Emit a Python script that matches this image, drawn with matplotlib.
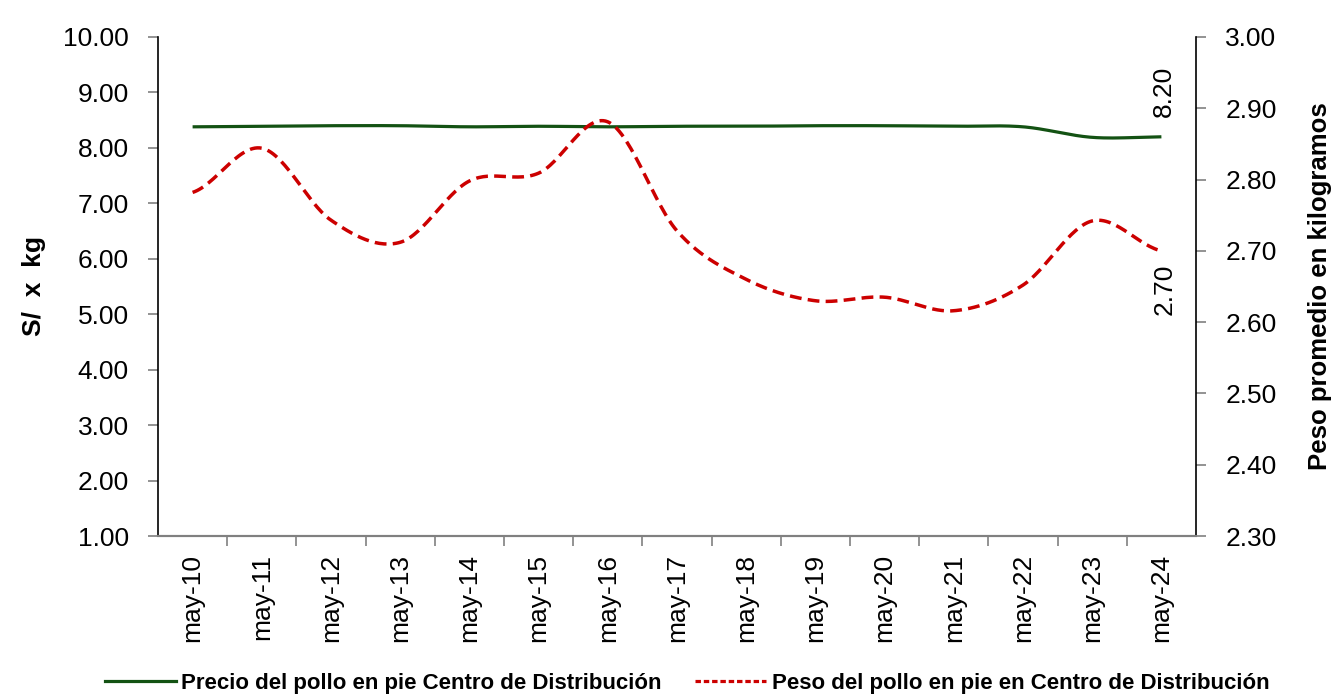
import numpy as np
import matplotlib
matplotlib.use("Agg")
import matplotlib.pyplot as plt
from matplotlib.lines import Line2D

plt.rcParams['font.family'] = ['Liberation Sans', 'DejaVu Sans']

meses = ['may-10', 'may-11', 'may-12', 'may-13', 'may-14', 'may-15', 'may-16',
         'may-17', 'may-18', 'may-19', 'may-20', 'may-21', 'may-22', 'may-23', 'may-24']
precio = [8.38, 8.39, 8.40, 8.40, 8.38, 8.39, 8.38, 8.39, 8.39, 8.40, 8.40, 8.39, 8.38, 8.19, 8.20]
peso = [2.782, 2.844, 2.743, 2.712, 2.798, 2.809, 2.881, 2.728, 2.660, 2.630, 2.635, 2.616, 2.652, 2.742, 2.700]

verde = '#135213'
rojo = '#cc0000'


def suavizar(y, n=30):
    # catmull-rom, como la linea suavizada de Excel
    y = np.asarray(y, float)
    p = np.concatenate([[y[0]], y, [y[-1]]])
    xs, ys = [], []
    for i in range(len(y) - 1):
        p0, p1, p2, p3 = p[i], p[i + 1], p[i + 2], p[i + 3]
        t = np.linspace(0, 1, n, endpoint=False)
        c1 = p1 + (p2 - p0) / 6
        c2 = p2 - (p3 - p1) / 6
        b = (1 - t)**3 * p1 + 3 * (1 - t)**2 * t * c1 + 3 * (1 - t) * t**2 * c2 + t**3 * p2
        xs.append(i + t)
        ys.append(b)
    xs.append([len(y) - 1])
    ys.append([y[-1]])
    return np.concatenate(xs), np.concatenate(ys)


fig = plt.figure(figsize=(13.37, 6.97), dpi=100)
ax = fig.add_axes([158 / 1337, 1 - 536 / 697, (1196 - 158) / 1337, (536 - 37) / 697])
ax2 = ax.twinx()

x = np.arange(len(meses))
sx, sy = suavizar(precio)
ax.plot(sx, sy, color=verde, lw=2.3, solid_capstyle='butt')
sx2, sy2 = suavizar(peso)
ax2.plot(sx2, sy2, color=rojo, lw=2.5, dashes=(3.4, 1.8))

ax.set_xlim(-0.5, len(meses) - 0.5)
ax.set_ylim(1, 10)
ax.set_yticks(np.arange(1, 10.01, 1))
ax.set_yticklabels(['%.2f' % v for v in np.arange(1, 10.01, 1)])
ax2.set_ylim(2.3, 3.0)
ax2.set_yticks(np.arange(2.3, 3.001, 0.1))
ax2.set_yticklabels(['%.2f' % v for v in np.arange(2.3, 3.001, 0.1)])

ax.set_xticks(x)
ax.set_xticklabels(meses, rotation=90)
ax.set_xticks(np.arange(0.5, len(meses) - 1, 1), minor=True)
ax.tick_params(axis='x', which='major', length=0, pad=13, labelsize=19)
ax.tick_params(axis='x', which='minor', length=7, width=1.2, color='#808080', direction='out')
ax.tick_params(axis='y', length=7, width=1.2, color='#808080', pad=14, labelsize=19)
ax2.tick_params(axis='y', length=7, width=1.2, color='#808080', pad=14, labelsize=19)

for a in (ax, ax2):
    a.spines['top'].set_visible(False)
    a.spines['bottom'].set_color('#808080')
    a.spines['bottom'].set_linewidth(1.5)
    a.spines['left'].set_linewidth(1.2)
    a.spines['right'].set_linewidth(1.2)
ax2.spines['left'].set_visible(False)
ax.spines['right'].set_visible(False)

ax.set_ylabel('S/  x  kg', fontsize=19, fontweight='bold', labelpad=12)
ax2.set_ylabel('Peso promedio en kilogramos', fontsize=18.5, fontweight='bold',
               rotation=90, labelpad=23)

ax.annotate('%.2f' % precio[-1], (x[-1], precio[-1]), xytext=(2, 14),
            textcoords='offset points', rotation=90, ha='center', va='bottom', fontsize=19)
ax2.annotate('%.2f' % peso[-1], (x[-1], peso[-1]), xytext=(2, -9),
             textcoords='offset points', rotation=90, ha='center', va='top', fontsize=19)

handles = [Line2D([], [], color=verde, lw=2.3),
           Line2D([], [], color=rojo, lw=2.3, dashes=(1.7, 0.9))]
etiquetas = ['Precio del pollo en pie Centro de Distribución',
             'Peso del pollo en pie en Centro de Distribución']
fig.legend(handles, etiquetas, loc='center', bbox_to_anchor=(0.514, 1 - 683 / 697), ncol=2,
           frameon=False, handlelength=3.2, handletextpad=0.25, columnspacing=1.5,
           prop={'weight': 'bold', 'size': 16})

fig.savefig('out.png', dpi=100)
